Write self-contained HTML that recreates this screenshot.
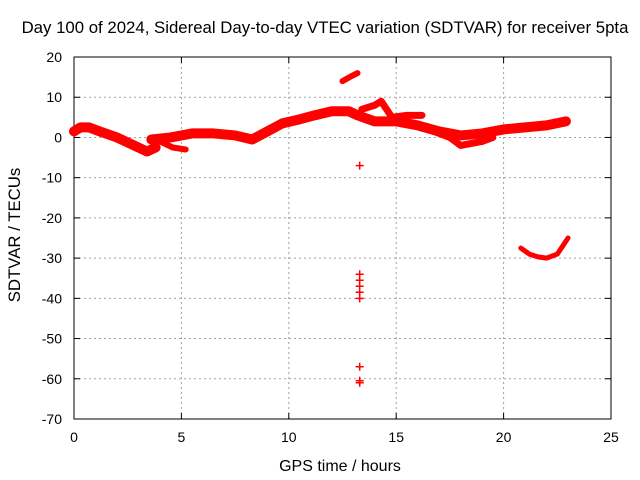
<!DOCTYPE html>
<html><head><meta charset="utf-8"><style>
body{margin:0;background:#fff;}
svg{display:block;font-family:"Liberation Sans",sans-serif;}
</style></head><body>
<svg id="c" width="640" height="480"></svg>
<script>
const xTicks=[0,5,10,15,20,25];
const yTicks=[20,10,0,-10,-20,-30,-40,-50,-60,-70];
const mainHours=[0,0.3,0.7,1.2,2,2.8,3.4,3.8];
const mainVals=[1.5,2.5,2.5,1.5,0,-2,-3.5,-2.5];
const midHours=[3.6,4.5,5.5,6.5,7.5,8.3,9,9.7,10.5,11.2,12,12.8,13.2,14,15,16,17,18,19,20,21,22,22.9];
const midVals=[-0.5,0,1,1,0.5,-0.5,1.5,3.5,4.5,5.5,6.5,6.5,5.5,4,4,3,1.5,0.5,1,2,2.5,3,4];
const tailHours=[4,4.6,5.2];
const tailVals=[-1,-2.5,-3];
const lowHours=[16.5,17.5,18,19,19.5];
const lowVals=[2,0,-2,-1,0];
const upHours=[13.4,14,14.3,14.8,15.5,16.2];
const upVals=[7,8,9,5,5.5,5.5];
const spikeHours=[12.5,12.9,13.2];
const spikeVals=[14,15.2,16];
const curveHours=[20.8,21.2,21.6,22,22.5,23];
const curveVals=[-27.5,-29,-29.7,-30,-29,-25];
const ptHours=[13.3,13.3,13.3,13.3,13.3,13.3,13.3,13.3,13.3];
const ptVals=[-7,-34,-35.5,-37,-38.5,-40,-57,-60.5,-61];

const L=74,R=611,T=57,B=419;
const X=h=>L+(h-0)/25*(R-L);
const Y=v=>T+(20-v)/90*(B-T);
const svg=document.getElementById('c');
const NS='http://www.w3.org/2000/svg';
function el(t,a,p){const e=document.createElementNS(NS,t);for(const k in a)e.setAttribute(k,a[k]);(p||svg).appendChild(e);return e;}
function txt(s,a){const e=el('text',a);e.textContent=s;return e;}

const grid=el('g',{});


xTicks.forEach(t=>{
 if(t>0&&t<25){const g=el('line',{x1:X(t),x2:X(t),y1:T,y2:B,stroke:'#a0a0a0','stroke-dasharray':'2,3'},grid);}
 const l=txt(String(t),{x:X(t),y:B+23,'text-anchor':'middle','font-size':14});
 
 
 el('line',{x1:X(t),x2:X(t),y1:B,y2:B-6,stroke:'#000'});el('line',{x1:X(t),x2:X(t),y1:T,y2:T+6,stroke:'#000'});
});
yTicks.forEach(t=>{
 if(t<20&&t>-70){const g=el('line',{x1:L,x2:R,y1:Y(t),y2:Y(t),stroke:'#a0a0a0','stroke-dasharray':'2,3'},grid);}
 const l=txt(String(t),{x:L-12,y:Y(t)+5,'text-anchor':'end','font-size':14});
 
 
 el('line',{x1:L,x2:L+6,y1:Y(t),y2:Y(t),stroke:'#000'});el('line',{x1:R,x2:R-6,y1:Y(t),y2:Y(t),stroke:'#000'});
});
const fr=el('rect',{x:L,y:T,width:R-L,height:B-T,fill:'none',stroke:'#000'});



function band(hs,vs,w,name){
 const p=el('polyline',{points:hs.map((h,i)=>X(h)+','+Y(vs[i])).join(' '),fill:'none',stroke:'#ff0000','stroke-width':w,'stroke-linejoin':'round','stroke-linecap':'round'});
 
 
}
band(mainHours,mainVals,10,'series-early');
band(midHours,midVals,10,'series-main');
band(tailHours,tailVals,6,'series-tail');
band(lowHours,lowVals,7,'series-low-branch');
band(upHours,upVals,7,'series-upper-branch');
band(spikeHours,spikeVals,6,'series-spike');
band(curveHours,curveVals,5,'series-curve');
ptHours.forEach((h,i)=>{
 const g=el('path',{d:`M${X(h)-4},${Y(ptVals[i])}h8M${X(h)},${Y(ptVals[i])-4}v8`,stroke:'#ff0000','stroke-width':1.5});
 
 
});
const t=txt('Day 100 of 2024, Sidereal Day-to-day VTEC variation (SDTVAR) for receiver 5pta',{x:325,y:33,'text-anchor':'middle','font-size':16.8});


const xt=txt('GPS time / hours',{x:340,y:471,'text-anchor':'middle','font-size':16});


const yt=txt('SDTVAR / TECUs',{x:0,y:0,'text-anchor':'middle','font-size':16.8,transform:'translate(20,235) rotate(-90)'});


</script>
</body></html>
